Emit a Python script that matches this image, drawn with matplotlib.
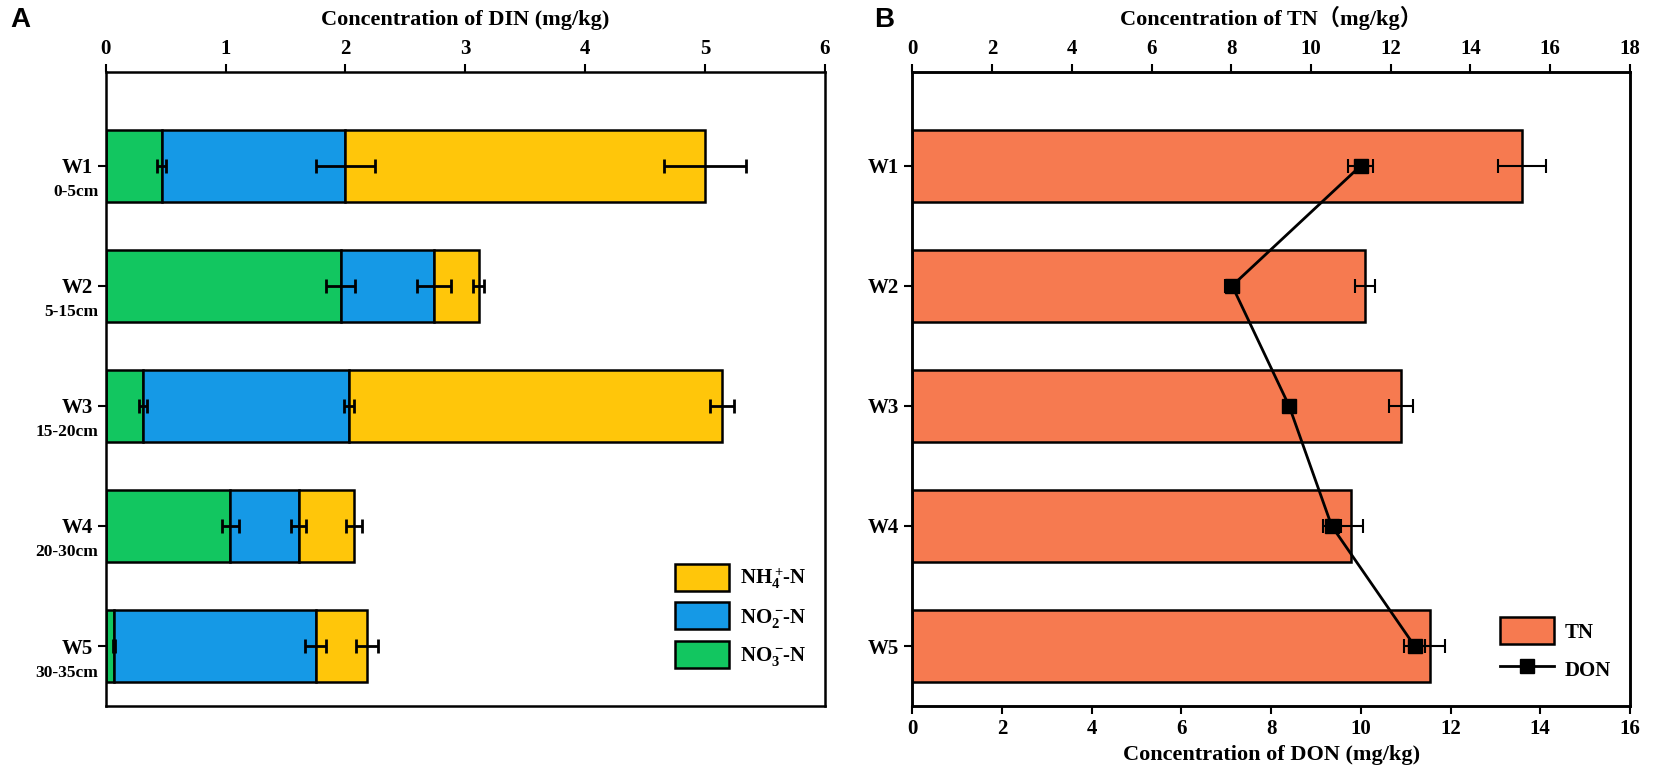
import numpy as np
import matplotlib.pyplot as plt

plt.rcParams['font.family'] = 'Liberation Serif'
plt.rcParams['font.weight'] = 'bold'
plt.rcParams['mathtext.fontset'] = 'custom'
plt.rcParams['mathtext.rm'] = 'Liberation Serif:bold'
plt.rcParams['mathtext.bf'] = 'Liberation Serif:bold'
plt.rcParams['mathtext.default'] = 'bf'

sites = ['W1', 'W2', 'W3', 'W4', 'W5']
depths = ['0-5cm', '5-15cm', '15-20cm', '20-30cm', '30-35cm']

# panel A, DIN fractions (mg/kg)
no3 = [0.465, 1.96, 0.31, 1.04, 0.07]
no3_err = [0.04, 0.12, 0.03, 0.07, 0.01]
no2 = [1.535, 0.78, 1.72, 0.57, 1.68]
no2_err = [0.25, 0.14, 0.04, 0.063, 0.09]
nh4 = [3.0, 0.37, 3.11, 0.46, 0.43]
nh4_err = [0.34, 0.045, 0.1, 0.067, 0.09]

# panel B
tn = [15.3, 11.35, 12.25, 11.0, 12.98]
tn_err = [0.6, 0.25, 0.3, 0.3, 0.38]
don = [10.0, 7.13, 8.4, 9.35, 11.2]
don_err = [0.28, 0.15, 0.1, 0.2, 0.23]

c_green = '#12C660'
c_blue = '#1599E6'
c_yellow = '#FFC60A'
c_orange = '#F67A50'

fig = plt.figure(figsize=(16.53, 7.82), dpi=100)
axA = fig.add_axes([0.064, 0.097, 0.435, 0.811])
axB = fig.add_axes([0.552, 0.097, 0.434, 0.811])

y = np.arange(len(sites))
h = 0.6
ylim = (4.5, -0.78)
ekw = dict(fmt='none', ecolor='black', elinewidth=2, capsize=5, capthick=2)

left = np.zeros(len(sites))
for vals, errs, col, lab in [(no3, no3_err, c_green, r'NO$_3^-\!$-N'),
                             (no2, no2_err, c_blue, r'NO$_2^-\!$-N'),
                             (nh4, nh4_err, c_yellow, r'NH$_4^+\!$-N')]:
    axA.barh(y, vals, h, left=left, color=col, edgecolor='black', linewidth=1.8, label=lab)
    left = left + np.array(vals)
    axA.errorbar(left, y, xerr=errs, **ekw)

axA.set_xlim(0, 6)
axA.set_ylim(*ylim)
axA.xaxis.tick_top()
axA.xaxis.set_label_position('top')
axA.set_xticks(range(7))
axA.set_xlabel('Concentration of DIN (mg/kg)', fontsize=16, fontweight='bold', labelpad=10)
axA.set_yticks(y)
axA.set_yticklabels(sites, fontsize=15)
for i, d in enumerate(depths):
    axA.text(-0.01, i + 0.22, d, transform=axA.get_yaxis_transform(), ha='right', va='center',
             fontsize=12.5, fontweight='bold')
handles, labels = axA.get_legend_handles_labels()
axA.legend(handles[::-1], labels[::-1], loc='lower right', frameon=False, fontsize=15,
           handlelength=2.6, handleheight=1.6, labelspacing=0.55, handletextpad=0.5,
           bbox_to_anchor=(1.0, 0.03))

axB.barh(y, tn, h, color=c_orange, edgecolor='black', linewidth=1.8, label='TN')
axB.errorbar(tn, y, xerr=tn_err, fmt='none', ecolor='black', elinewidth=1.5, capsize=5, capthick=1.5)
axB.set_ylim(*ylim)
axB.set_yticks(y)
axB.set_yticklabels(sites, fontsize=15)

axD = axB.twiny()
axD.errorbar(don, y, xerr=don_err, fmt='none', ecolor='black', elinewidth=1.5, capsize=5, capthick=1.5)
axD.plot(don, y, color='black', lw=2, marker='s', ms=10, label='DON')
axD.set_xlim(0, 16)
axD.set_xticks(range(0, 17, 2))
axD.xaxis.tick_bottom()
axD.xaxis.set_label_position('bottom')
axD.set_xlabel('Concentration of DON (mg/kg)', fontsize=16, fontweight='bold', labelpad=4)
axD.set_ylim(*ylim)

axB.set_xlim(0, 18)
axB.set_xticks(range(0, 19, 2))
axB.xaxis.tick_top()
axB.xaxis.set_label_position('top')
axB.set_xlabel('Concentration of TN\uff08mg/kg\uff09', fontsize=16, fontweight='bold', labelpad=10,
               family=['Liberation Serif', 'Noto Sans CJK SC'])

hb, lb = axB.get_legend_handles_labels()
hd, ld = axD.get_legend_handles_labels()
axD.legend(hb + hd, lb + ld, loc='lower right', frameon=False, fontsize=15,
           handlelength=2.6, handleheight=1.6, labelspacing=0.55, handletextpad=0.5,
           bbox_to_anchor=(1.0, 0.008))

for ax in (axA, axB, axD):
    for s in ax.spines.values():
        s.set_linewidth(1.8)
    ax.tick_params(direction='out', length=6, width=1.5, labelsize=15)
    for t in ax.get_xticklabels() + ax.get_yticklabels():
        t.set_fontweight('bold')

fig.text(0.006, 0.975, 'A', fontsize=20, fontweight='bold', family='Liberation Sans', va='center')
fig.text(0.529, 0.975, 'B', fontsize=20, fontweight='bold', family='Liberation Sans', va='center')

fig.savefig('out.png', dpi=100)
